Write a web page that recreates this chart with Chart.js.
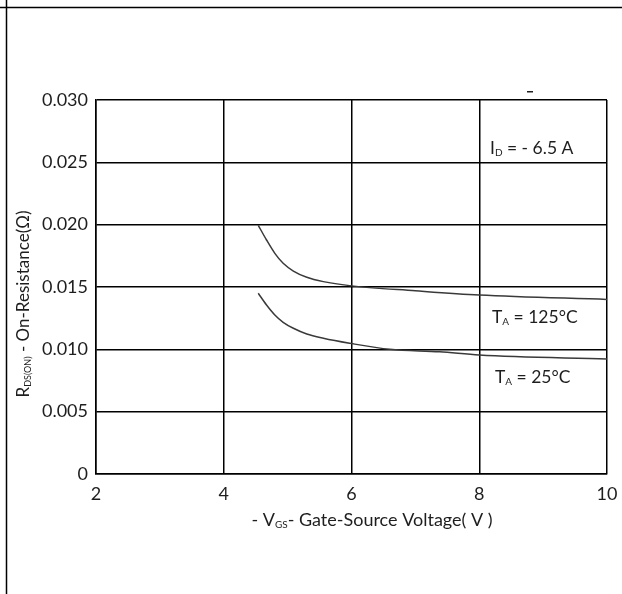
<!DOCTYPE html>
<html>
<head>
<meta charset="utf-8">
<script src="https://cdn.jsdelivr.net/npm/chart.js@4/dist/chart.umd.min.js"></script>
<style>
  html, body { margin: 0; padding: 0; background: #fff; }
  #wrap { width: 622px; height: 594px; position: relative; }
</style>
</head>
<body>
<div id="wrap"><canvas id="chart" width="622" height="594"></canvas></div>
<script>
// Data
const xTicks = [2, 4, 6, 8, 10];
const yTicks = [0, 0.005, 0.010, 0.015, 0.020, 0.025, 0.030];

const vgs125 = [4.54, 4.67, 4.80, 4.93, 5.09, 5.30, 5.56, 5.97, 7.0, 8.0, 10];
const rds125 = [0.01995, 0.01877, 0.0177, 0.0169, 0.01628, 0.01578, 0.01543, 0.01511, 0.0147, 0.01436, 0.0140];

const vgs25 = [4.54, 4.67, 4.80, 4.93, 5.09, 5.30, 5.56, 5.97, 6.6, 7.38, 8.0, 10];
const rds25 = [0.0145, 0.01356, 0.01276, 0.01217, 0.01169, 0.01123, 0.01089, 0.01049, 0.0100, 0.0098, 0.00954, 0.00922];

const FONT = 'Lato, "Open Sans", sans-serif';
const INK = '#1e1e1e';

function toPoints(xs, ys) {
    return xs.map(function(x, i) { return { x: x, y: ys[i] }; });
}

// draw text with optional subscript pieces: parts = [[text, isSub], ...]
function drawRich(ctx, parts, x, y, size, align) {
    const subSize = Math.round(size * 0.55);
    let total = 0;
    parts.forEach(function(p) {
        ctx.font = (p[1] ? subSize : size) + 'px ' + FONT;
        total += ctx.measureText(p[0]).width;
    });
    let cx = align === 'center' ? x - total / 2 : x;
    ctx.textAlign = 'left';
    ctx.textBaseline = 'alphabetic';
    parts.forEach(function(p) {
        ctx.font = (p[1] ? subSize : size) + 'px ' + FONT;
        ctx.fillText(p[0], cx, p[1] ? y + 2 : y);
        cx += ctx.measureText(p[0]).width;
    });
}

const decorations = {
    id: 'decorations',
    afterDraw: function(chart) {
        const ctx = chart.ctx;
        ctx.save();
        // page frame lines
        ctx.strokeStyle = '#000';
        ctx.lineWidth = 1.5;
        ctx.beginPath();
        ctx.moveTo(0, 7.5); ctx.lineTo(622, 7.5);
        ctx.moveTo(6.5, 0); ctx.lineTo(6.5, 594);
        ctx.stroke();

        ctx.fillStyle = INK;
        // annotations
        drawRich(ctx, [['I', false], ['D', true], [' = - 6.5 A', false]], 490, 154, 17.5, 'left');
        drawRich(ctx, [['T', false], ['A', true], [' = 125°C', false]], 492, 323, 17.5, 'left');
        drawRich(ctx, [['T', false], ['A', true], [' = 25°C', false]], 495, 383, 17.5, 'left');
        ctx.fillRect(527, 91, 6, 1.5);

        // x axis title
        drawRich(ctx, [['- V', false], ['GS', true], ['- Gate-Source Voltage( V )', false]], 372, 526, 18, 'center');

        // y axis title (rotated)
        ctx.translate(29, 304);
        ctx.rotate(-Math.PI / 2);
        drawRich(ctx, [['R', false], ['DS(ON)', true], [' - On-Resistance(Ω)', false]], 0, 0, 17, 'center');
        ctx.restore();
    }
};

new Chart(document.getElementById('chart'), {
    type: 'line',
    data: {
        datasets: [{
            label: 'TA = 125°C',
            data: toPoints(vgs125, rds125),
            borderColor: '#3a3a3a',
            borderWidth: 1.5,
            pointRadius: 0,
            cubicInterpolationMode: 'monotone'
        }, {
            label: 'TA = 25°C',
            data: toPoints(vgs25, rds25),
            borderColor: '#3a3a3a',
            borderWidth: 1.5,
            pointRadius: 0,
            cubicInterpolationMode: 'monotone'
        }]
    },
    options: {
        responsive: false,
        animation: false,
        layout: { padding: { top: 100, right: 15, left: 0, bottom: 0 } },
        plugins: {
            legend: { display: false },
            tooltip: { enabled: false }
        },
        scales: {
            x: {
                type: 'linear',
                min: 2,
                max: 10,
                afterFit: function(scale) {
                    scale.height = 120;
                    scale.paddingLeft = 0;
                    scale.paddingRight = 0;
                },
                afterBuildTicks: function(scale) {
                    scale.ticks = xTicks.map(function(v) { return { value: v }; });
                },
                grid: { color: '#000', lineWidth: 1.5, drawTicks: false },
                border: { color: '#000', width: 1.5 },
                ticks: {
                    padding: 9,
                    color: INK,
                    font: { family: FONT, size: 18 }
                }
            },
            y: {
                type: 'linear',
                min: 0,
                max: 0.03,
                afterFit: function(scale) { scale.width = 96; },
                afterBuildTicks: function(scale) {
                    scale.ticks = yTicks.map(function(v) { return { value: v }; });
                },
                grid: { color: '#000', lineWidth: 1.5, drawTicks: false },
                border: { color: '#000', width: 1.5 },
                ticks: {
                    padding: 8,
                    color: INK,
                    font: { family: FONT, size: 18 },
                    callback: function(v) { return v === 0 ? '0' : v.toFixed(3); }
                }
            }
        }
    },
    plugins: [decorations]
});
</script>
</body>
</html>
